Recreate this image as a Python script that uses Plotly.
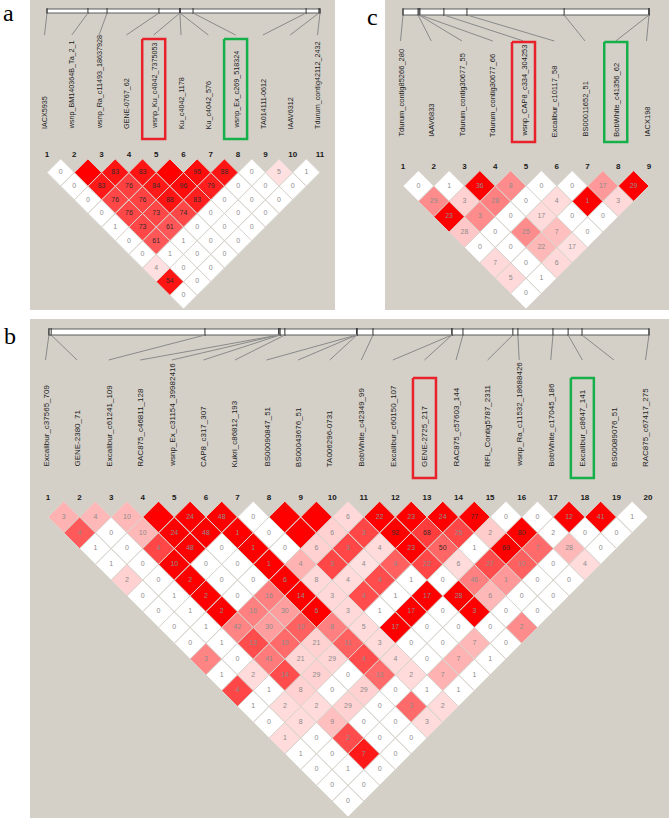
import plotly.graph_objects as go

W, H = 669, 820

# ======================= DATA =======================
# ---- panel a ----
A_MARKERS = ["IACX5935", "wsnp_BM140364B_Ta_2_1", "wsnp_Ra_c11493_18637928", "GENE-0767_62",
             "wsnp_Ku_c4042_7375053", "Ku_c4042_1178", "Ku_c4042_576", "wsnp_Ex_c269_518324",
             "TA014111-0612", "IAAV6312", "Tdurum_contig42112_2432"]
# relative map position of each marker along the physical bar (in marker-index units)
A_MAP = [1.0, 2.50, 3.20, 5.10, 5.87, 5.87, 5.87, 6.35, 10.49, 10.96, 11.0]
# LD values (D' x100), one list per diagonal (distance 1, 2, ...); None = 100 (no number shown)
A_LD = [
    [0, None, 83, 83, None, 95, 88, 0, 5, 1],
    [0, 83, 76, 84, 96, 79, 0, 0, 0],
    [0, 76, 76, 88, 83, 0, 0, 0],
    [0, 76, 73, 74, 0, 0, 0],
    [1, 73, 61, 0, 0, 0],
    [0, 61, 1, 0, 0],
    [0, 1, 0, 0],
    [4, 0, 0],
    [54, 0],
    [0],
]
# cell colour intensity (0 = white, 100 = full red)
A_SHADE = [
    [0, 100, 92, 92, 100, 95, 92, 0, 12, 0],
    [0, 90, 75, 90, 95, 88, 0, 0, 0],
    [0, 72, 74, 92, 88, 0, 0, 0],
    [0, 72, 72, 72, 0, 0, 0],
    [0, 72, 66, 0, 0, 0],
    [0, 66, 0, 0, 0],
    [0, 0, 0, 0],
    [12, 0, 0],
    [92, 0],
    [0],
]
A_RED = 5
A_GREEN = 8

# ---- panel c ----
C_MARKERS = ["Tdurum_contig85266_280", "IAAV6833", "Tdurum_contig30677_55", "Tdurum_contig30677_66",
             "wsnp_CAP8_c334_304253", "Excalibur_c10117_58", "BS00011652_51", "BobWhite_c41356_62",
             "IACX198"]
C_MAP = [1.0, 1.49, 1.52, 1.55, 2.33, 3.08, 6.24, 9.0, 9.0]
C_LD = [
    [0, 1, 36, 8, 0, 0, 17, 29],
    [29, 3, 28, 0, 4, 1, 3],
    [23, 3, 0, 17, 0, 0],
    [28, 0, 25, 7, 0],
    [0, 0, 22, 17],
    [7, 0, 6],
    [5, 1],
    [0],
]
C_SHADE = [
    [0, 0, 100, 45, 0, 0, 40, 100],
    [45, 18, 50, 0, 14, 100, 15],
    [100, 45, 0, 14, 0, 0],
    [22, 0, 45, 25, 0],
    [0, 0, 28, 12],
    [15, 0, 15],
    [15, 0],
    [0],
]
C_RED = 5
C_GREEN = 8

# ---- panel b ----
B_MARKERS = ["Excalibur_c37565_709", "GENE-2380_71", "Excalibur_c61241_109", "RAC875_c46811_128",
             "wsnp_Ex_c31154_39982416", "CAP8_c317_307", "Kukri_c86812_193", "BS00090847_51",
             "BS00043676_51", "TA006296-0731", "BobWhite_c42349_99", "Excalibur_c60150_107",
             "GENE-2725_217", "RAC875_c57603_144", "RFL_Contig5787_2311", "wsnp_Ra_c11532_18688426",
             "BobWhite_c17045_186", "Excalibur_c8647_141", "BS00089076_51", "RAC875_c67417_275"]
B_MAP = [1.03, 1.10, 5.97, 8.31, 8.31, 8.35, 8.50, 10.78, 10.78, 10.78, 11.29, 13.79, 13.79,
         14.14, 15.72, 15.88, 16.99, 17.47, 17.91, 20.03]
B_LD = [
    [3, 4, 10, None, 24, 48, 0, None, None, 6, 22, 23, 24, 77, 0, 0, 12, 41, 1],
    [4, 0, 10, 24, 48, 1, 0, None, 6, 3, 92, 68, 25, 2, 80, 2, 0, 0],
    [1, 0, 4, 48, 0, 1, 0, 6, 3, 4, 23, 50, 1, 69, 7, 28, 0],
    [1, 0, 10, 0, 0, 1, 4, 3, 4, 4, 22, 6, 27, 10, 0, 4],
    [2, 0, 2, 0, 0, 6, 8, 4, 4, 1, 0, 46, 1, 0, 0],
    [0, 1, 2, 0, 16, 14, 3, 4, 1, 17, 28, 6, 0, 0],
    [0, 1, 2, 16, 30, 6, 3, 1, 17, 0, 3, 0, 0],
    [0, 1, 42, 30, 19, 8, 5, 17, 0, 0, 0, 2],
    [0, 1, 13, 19, 21, 11, 3, 0, 0, 7, 0],
    [3, 0, 41, 21, 29, 4, 4, 0, 7, 1],
    [1, 2, 14, 29, 0, 13, 2, 7, 1],
    [4, 1, 8, 0, 29, 0, 1, 1],
    [1, 2, 2, 29, 0, 3, 2],
    [0, 8, 9, 0, 0, 3],
    [1, 0, 2, 0, 0],
    [1, 0, 7, 0],
    [0, 1, 0],
    [0, 0],
    [0],
]
B_SHADE = [
    [30, 28, 28, 100, 100, 100, 0, 100, 100, 15, 100, 100, 100, 100, 0, 0, 100, 100, 0],
    [65, 0, 28, 100, 100, 100, 0, 100, 18, 72, 100, 76, 72, 20, 100, 0, 0, 0],
    [0, 0, 72, 100, 0, 100, 0, 18, 72, 14, 100, 60, 0, 100, 58, 28, 0],
    [0, 0, 100, 0, 0, 100, 30, 72, 12, 62, 72, 14, 70, 62, 0, 14],
    [18, 0, 100, 0, 0, 100, 15, 14, 70, 0, 0, 50, 40, 0, 0],
    [0, 0, 100, 0, 50, 100, 15, 70, 0, 100, 100, 28, 0, 0],
    [0, 0, 100, 50, 38, 100, 15, 0, 100, 0, 100, 0, 0],
    [0, 0, 48, 38, 62, 50, 14, 100, 0, 0, 0, 45],
    [0, 0, 70, 58, 18, 62, 14, 0, 0, 28, 0],
    [48, 0, 52, 16, 16, 70, 14, 0, 30, 0],
    [0, 14, 70, 18, 0, 58, 14, 30, 0],
    [72, 0, 18, 0, 18, 0, 0, 0],
    [0, 14, 14, 18, 0, 58, 14],
    [0, 14, 25, 0, 0, 14],
    [14, 0, 70, 0, 0],
    [0, 0, 90, 0],
    [0, 0, 0],
    [0, 0],
    [0],
]
B_RED = 13
B_GREEN = 18

# ======================= LAYOUT GEOMETRY (pixels) =======================
GRAY_BG = "#D4D0C8"
PANELS = [
    dict(key="a", ax="", names=A_MARKERS, pos=A_MAP, ld=A_LD, shade=A_SHADE, red=A_RED, green=A_GREEN,
         L=30, R=335, T=0, B=310, x0=47, s=27.3, yb=158.85, num_y=155, bar=(9, 13), con_end=35,
         lab_bottom=130, box=(39, 139), lab_size=7.2),
    dict(key="b", ax="2", names=B_MARKERS, pos=B_MAP, ld=B_LD, shade=B_SHADE, red=B_RED, green=B_GREEN,
         L=30, R=669, T=319, B=818, x0=48, s=31.58, yb=501.2, num_y=498, bar=(329, 335), con_end=360,
         lab_bottom=468, box=(378, 478), lab_size=8.0),
    dict(key="c", ax="3", names=C_MARKERS, pos=C_MAP, ld=C_LD, shade=C_SHADE, red=C_RED, green=C_GREEN,
         L=385, R=669, T=0, B=310, x0=403, s=30.75, yb=170.6, num_y=167, bar=(9, 15), con_end=41,
         lab_bottom=138, box=(42, 142), lab_size=7.5),
]

fig = go.Figure()
annotations = []
layout_axes = {}


def shade_color(r):
    g = round(255 * (1 - r / 100))
    return f"rgb(255,{g},{g})"


for P in PANELS:
    xa, ya = "x" + P["ax"], "y" + P["ax"]
    s, x0, yb = P["s"], P["x0"], P["yb"]

    def U(py, yb=yb, s=s):
        return (py - yb) / s

    n = len(P["names"])
    # axes: marker index along x, half-row units along y (1 unit == s pixels on both)
    layout_axes["xaxis" + P["ax"]] = dict(
        domain=[P["L"] / W, P["R"] / W],
        range=[1 + (P["L"] - x0) / s, 1 + (P["R"] - x0) / s],
        visible=False, fixedrange=True, anchor=ya)
    layout_axes["yaxis" + P["ax"]] = dict(
        domain=[1 - P["B"] / H, 1 - P["T"] / H],
        range=[U(P["B"]), U(P["T"])],
        visible=False, fixedrange=True, anchor=xa)

    # --- LD diamonds grouped by colour ---
    groups = {}
    tx, ty, tt, tc = [], [], [], []
    for d, (row_v, row_s) in enumerate(zip(P["ld"], P["shade"]), start=1):
        for k, (v, sh) in enumerate(zip(row_v, row_s)):
            i = k + 1
            j = i + d
            cx, cu = (i + j) / 2, d / 2
            xs, ys = groups.setdefault(sh, ([], []))
            xs += [cx - 0.5, cx, cx + 0.5, cx, cx - 0.5, None]
            ys += [cu, cu - 0.5, cu, cu + 0.5, cu, None]
            if v is not None:
                tx.append(cx)
                ty.append(cu)
                tt.append(str(v))
                tc.append("#3a2a2a" if v >= 50 else "#8c8c8c")
    for sh, (xs, ys) in sorted(groups.items()):
        fig.add_trace(go.Scatter(x=xs, y=ys, xaxis=xa, yaxis=ya, mode="lines", fill="toself",
                                 fillcolor=shade_color(sh), line=dict(color="#D9D5CE", width=1),
                                 hoverinfo="skip", showlegend=False))
    fig.add_trace(go.Scatter(x=tx, y=ty, text=tt, xaxis=xa, yaxis=ya, mode="text",
                             textfont=dict(size=7, color=tc, family="Liberation Sans"),
                             hoverinfo="skip", showlegend=False))

    # --- marker numbers ---
    idx = list(range(1, n + 1))
    fig.add_trace(go.Scatter(x=idx, y=[U(P["num_y"])] * n, text=[f"<b>{k}</b>" for k in idx],
                             xaxis=xa, yaxis=ya, mode="text",
                             textfont=dict(size=8, color="#1a1a1a", family="Liberation Sans"),
                             hoverinfo="skip", showlegend=False))

    # --- physical map bar ---
    bt, bb = U(P["bar"][0]), U(P["bar"][1])
    p0, p1 = min(P["pos"]), max(P["pos"])
    fig.add_trace(go.Scatter(x=[p0, p1, p1, p0, p0], y=[bt, bt, bb, bb, bt], xaxis=xa, yaxis=ya,
                             mode="lines", fill="toself", fillcolor="white",
                             line=dict(color="#5a5a5a", width=1), hoverinfo="skip", showlegend=False))
    tkx, tky = [], []
    for p in P["pos"]:
        tkx += [p, p, None]
        tky += [U(P["bar"][0] - 1), U(P["bar"][1] + 1), None]
    fig.add_trace(go.Scatter(x=tkx, y=tky, xaxis=xa, yaxis=ya, mode="lines",
                             line=dict(color="#333333", width=1), hoverinfo="skip", showlegend=False))

    # --- connector lines from map position to label ---
    off = 2.5 / s
    cnx, cny = [], []
    for k, p in enumerate(P["pos"], start=1):
        cnx += [p, k - off, None]
        cny += [bb, U(P["con_end"]), None]
    fig.add_trace(go.Scatter(x=cnx, y=cny, xaxis=xa, yaxis=ya, mode="lines",
                             line=dict(color="#8a8a8a", width=1), hoverinfo="skip", showlegend=False))

    # --- marker name labels ---
    for k, name in enumerate(P["names"], start=1):
        annotations.append(dict(x=k - off, y=U(P["lab_bottom"]), xref=xa, yref=ya, text=name,
                                textangle=-90, showarrow=False, xanchor="center", yanchor="bottom",
                                borderpad=0,
                                font=dict(size=P["lab_size"], color="#222222", family="Liberation Sans")))

    # --- highlight boxes ---
    hw = 11.5 / s
    for k, col in ((P["red"], "#E8212B"), (P["green"], "#16B04A")):
        xl, xr = k - off - hw, k - off + hw
        yt, ybt = U(P["box"][0]), U(P["box"][1])
        fig.add_trace(go.Scatter(x=[xl, xr, xr, xl, xl], y=[yt, yt, ybt, ybt, yt], xaxis=xa, yaxis=ya,
                                 mode="lines", line=dict(color=col, width=2.5),
                                 hoverinfo="skip", showlegend=False))

# panel letters
for letter, px, py in (("a", 8.5, 12.5), ("c", 372.5, 17.0), ("b", 9.5, 336.0)):
    annotations.append(dict(x=px / W, y=1 - py / H, xref="paper", yref="paper", text=letter,
                            showarrow=False, xanchor="center", yanchor="middle",
                            font=dict(size=24, color="black", family="Liberation Serif")))

fig.update_layout(
    width=W, height=H, margin=dict(l=0, r=0, t=0, b=0),
    paper_bgcolor="white", plot_bgcolor=GRAY_BG, showlegend=False,
    annotations=annotations, **layout_axes)

fig.write_html("out.html")
